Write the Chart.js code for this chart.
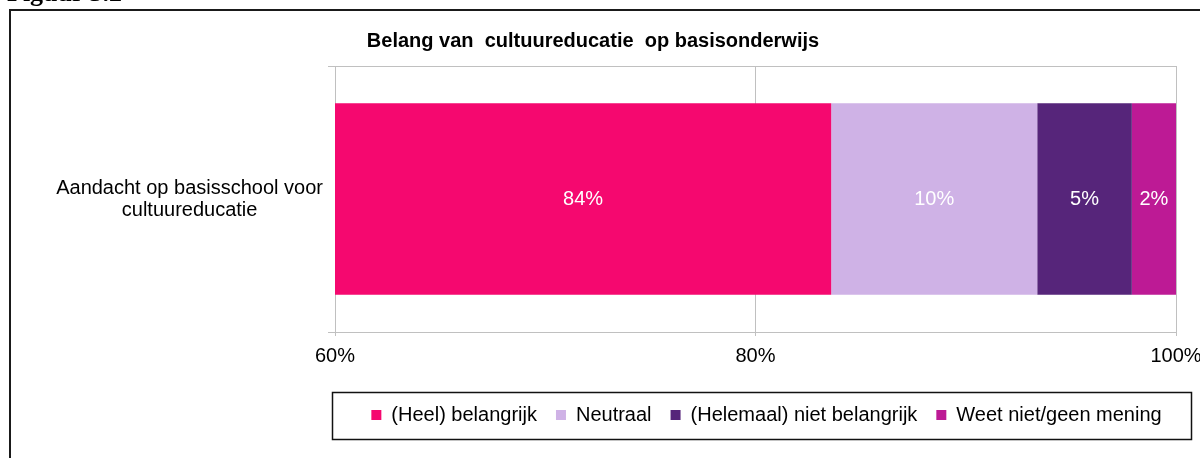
<!DOCTYPE html>
<html>
<head>
<meta charset="utf-8">
<script src="https://cdn.jsdelivr.net/npm/chart.js@4.4.0/dist/chart.umd.min.js"></script>
<style>
  html, body { margin: 0; padding: 0; background: #fff; }
  #wrap { position: relative; width: 1200px; height: 458px; overflow: hidden; }
  #fig { position: absolute; left: 7px; top: -20px; font: bold 26px/26px "Liberation Serif", "Times New Roman", serif; color: #000; z-index: 2; }
  canvas { position: absolute; left: 0; top: 0; }
</style>
</head>
<body>
<div id="wrap">
  <div id="fig">Figuur 3.2</div>
  <canvas id="chart" width="1200" height="458"></canvas>
</div>
<script>
// gegevens
const categories = [['Aandacht op basisschool voor', 'cultuureducatie']];
const seriesNames = ['(Heel) belangrijk', 'Neutraal', '(Helemaal) niet belangrijk', 'Weet niet/geen mening'];
const heelBelangrijk = [83.6];
const neutraal = [9.8];
const nietBelangrijk = [4.5];
const weetNiet = [2.1];
const seriesColors = ['#F5086F', '#CFB2E6', '#56257A', '#BD1A95'];
const xTicks = [60, 80, 100];
const titleText = 'Belang van  cultuureducatie  op basisonderwijs';

Chart.defaults.font.family = 'Arial, "Liberation Sans", sans-serif';
Chart.defaults.font.size = 20;
Chart.defaults.color = '#000';

// witte achtergrond en kader linksboven
const framePlugin = {
    id: 'frame',
    beforeDraw(chart) {
        const c = chart.ctx;
        c.save();
        c.fillStyle = '#fff';
        c.fillRect(0, 0, chart.width, chart.height);
        c.strokeStyle = '#1a1a1a';
        c.lineWidth = 2;
        c.beginPath();
        c.moveTo(chart.width, 10);
        c.lineTo(10, 10);
        c.lineTo(10, chart.height);
        c.stroke();
        c.restore();
    }
};

// percentages midden in het zichtbare deel van elk segment
const valueLabels = {
    id: 'valueLabels',
    afterDatasetsDraw(chart) {
        const c = chart.ctx;
        const area = chart.chartArea;
        c.save();
        c.fillStyle = '#fff';
        c.font = '20px Arial, "Liberation Sans", sans-serif';
        c.textAlign = 'center';
        c.textBaseline = 'middle';
        chart.data.datasets.forEach((ds, i) => {
            chart.getDatasetMeta(i).data.forEach((bar, j) => {
                const left = Math.max(Math.min(bar.x, bar.base), area.left);
                const right = Math.min(Math.max(bar.x, bar.base), area.right);
                if (right <= left) return;
                c.fillText(Math.round(ds.data[j]) + '%', (left + right) / 2, bar.y);
            });
        });
        c.restore();
    }
};

// legenda iets naar rechts, zoals in het origineel
const legendShift = {
    id: 'legendShift',
    afterLayout(chart) {
        chart.legend.left += 11;
        chart.legend.right += 11;
    }
};

// rand om de legenda
const legendBorder = {
    id: 'legendBorder',
    afterDraw(chart) {
        const lg = chart.legend;
        const boxes = lg.legendHitBoxes;
        if (!boxes || !boxes.length) return;
        const last = boxes[boxes.length - 1];
        const c = chart.ctx;
        c.save();
        c.strokeStyle = '#111';
        c.lineWidth = 1.5;
        const l = Math.round(boxes[0].left - 39) + 0.5;
        const r = Math.round(last.left + last.width + 29) + 0.5;
        const t = Math.round(lg.top + 6) + 0.5;
        const b = Math.round(lg.top + 53) + 0.5;
        c.strokeRect(l, t, r - l, b - t);
        c.restore();
    }
};

const datasets = [heelBelangrijk, neutraal, nietBelangrijk, weetNiet].map((values, i) => ({
    label: seriesNames[i],
    data: values,
    backgroundColor: seriesColors[i],
    borderWidth: 0,
    categoryPercentage: 1,
    barPercentage: 0.72
}));

new Chart(document.getElementById('chart'), {
    type: 'bar',
    data: { labels: categories, datasets: datasets },
    options: {
        indexAxis: 'y',
        responsive: false,
        animation: false,
        layout: { padding: { left: 10, top: 10, right: 24, bottom: 23 } },
        scales: {
            x: {
                stacked: true,
                min: 60,
                max: 100,
                afterBuildTicks: s => { s.ticks = xTicks.map(v => ({ value: v })); },
                afterFit: s => { s.height = 54; s.paddingRight = 0; s.paddingLeft = 0; },
                grid: { color: '#C0C0C0', tickLength: 4 },
                border: { color: '#C0C0C0' },
                ticks: { padding: 8, maxRotation: 0, autoSkip: false, callback: v => v + '%' }
            },
            y: {
                stacked: true,
                afterFit: s => { s.width = 325; },
                grid: { color: '#C0C0C0', tickLength: 7, offset: true },
                border: { display: false },
                ticks: { crossAlign: 'center', padding: 5, font: { size: 20, lineHeight: 1.1 } }
            }
        },
        plugins: {
            title: {
                display: true,
                text: titleText,
                font: { size: 20, weight: 'bold' },
                padding: { top: 19, bottom: 13 }
            },
            legend: {
                position: 'bottom',
                fullSize: false,
                labels: { boxWidth: 10, boxHeight: 10, padding: 19, font: { size: 20 } }
            },
            tooltip: { enabled: false }
        }
    },
    plugins: [framePlugin, valueLabels, legendShift, legendBorder]
});
</script>
</body>
</html>
